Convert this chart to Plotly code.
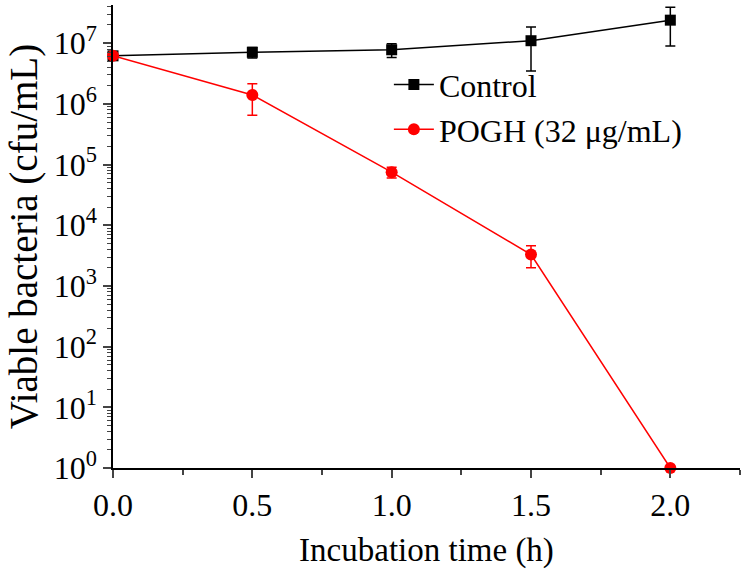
import plotly.graph_objects as go

# incubation time (h)
time_h = [0.0, 0.5, 1.0, 1.5, 2.0]

# viable bacteria (cfu/mL)
control = [6.2e6, 7.1e6, 7.8e6, 1.1e7, 2.4e7]
control_err = [0.4e6, 1.4e6, 2.0e6, 7.5e6, 1.5e7]

pogh = [6.2e6, 1.4e6, 7.5e4, 3.3e3, 1.0]
pogh_err = [0.4e6, 0.75e6, 1.5e4, 1.3e3, 0.0]

y_tickvals = [1, 10, 100, 1e3, 1e4, 1e5, 1e6, 1e7]
y_ticktext = ["10<sup>%d</sup>" % i for i in range(8)]
x_tickvals = [0.0, 0.5, 1.0, 1.5, 2.0]
x_ticktext = ["0.0", "0.5", "1.0", "1.5", "2.0"]

font_family = "Liberation Serif"

fig = go.Figure()
fig.add_trace(go.Scatter(
    x=time_h, y=control, name="Control", mode="lines+markers",
    line=dict(color="black", width=1.5),
    marker=dict(symbol="square", size=11, color="black"),
    error_y=dict(type="data", array=control_err, color="black", thickness=1.5, width=5),
    cliponaxis=False,
))
fig.add_trace(go.Scatter(
    x=time_h, y=pogh, name="POGH (32 μg/mL)", mode="lines+markers",
    line=dict(color="#ff0000", width=1.5),
    marker=dict(symbol="circle", size=12, color="#ff0000"),
    error_y=dict(type="data", array=pogh_err, color="#ff0000", thickness=1.5, width=5),
    cliponaxis=False,
))

fig.update_layout(
    width=744, height=574,
    paper_bgcolor="white", plot_bgcolor="white",
    margin=dict(l=113, r=4, t=5, b=106),
    font=dict(family=font_family, color="black", size=32),
    showlegend=True,
    legend=dict(x=0.44, y=0.887, xanchor="left", yanchor="top",
                font=dict(size=32), bgcolor="rgba(0,0,0,0)",
                tracegroupgap=0, itemwidth=40),
)
fig.update_xaxes(
    range=[0, 2.25], showline=True, linecolor="black", linewidth=1.5,
    showgrid=False, zeroline=False, ticks="outside", ticklen=8, tickwidth=1.5,
    tickvals=x_tickvals, ticktext=x_ticktext, tickfont=dict(size=32),
    minor=dict(ticks="outside", ticklen=5, tickwidth=1.5, dtick=0.25, tick0=0, showgrid=False),
    title=dict(text="Incubation time (h)", font=dict(size=33), standoff=16),
)
fig.update_yaxes(
    type="log", range=[0, 7.63], showline=True, linecolor="black", linewidth=1.5,
    showgrid=False, zeroline=False, ticks="outside", ticklen=8, tickwidth=1.5,
    tickvals=y_tickvals, ticktext=y_ticktext, tickfont=dict(size=32),
    minor=dict(ticks="outside", ticklen=4, tickwidth=1, dtick="D1", showgrid=False),
    title=dict(text="Viable bacteria (cfu/mL)", font=dict(size=39), standoff=4),
)

fig.write_html("out.html", config={"displayModeBar": False},
               post_script="document.body.style.margin='0';")
